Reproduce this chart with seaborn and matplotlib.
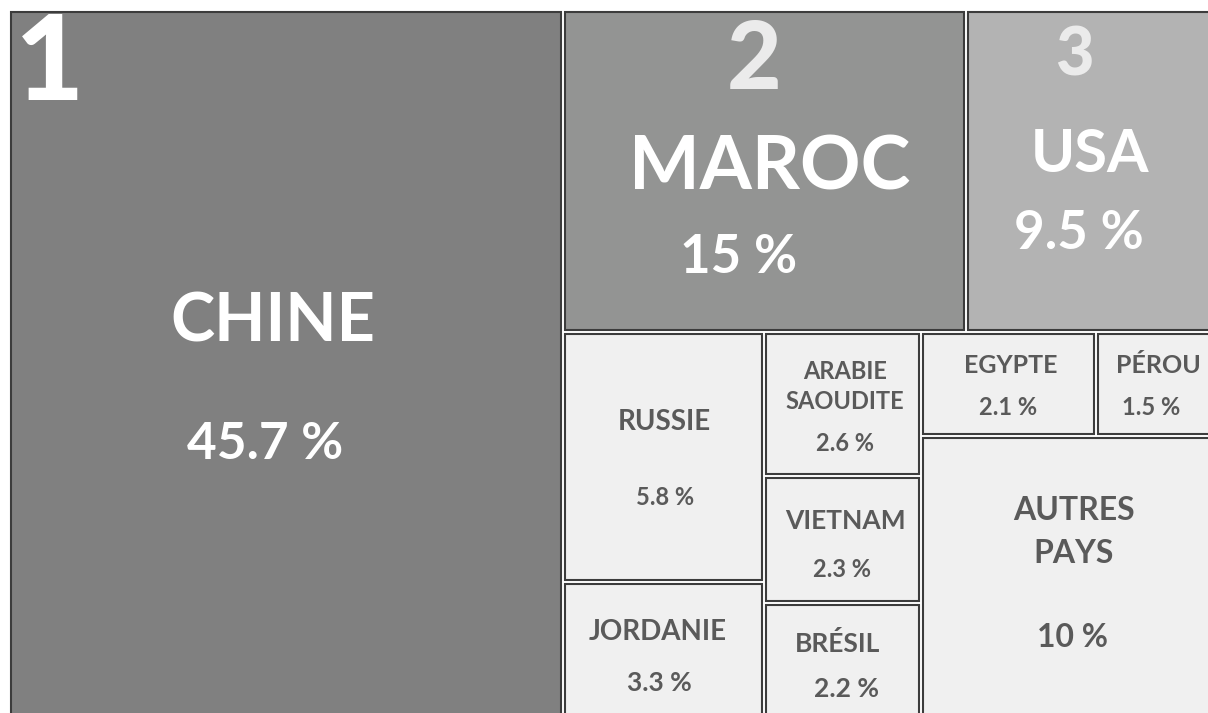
import matplotlib
matplotlib.use('Agg')
import matplotlib.pyplot as plt
from matplotlib.patches import Rectangle
import seaborn as sns

# parts de production (%)
pays = ['CHINE', 'MAROC', 'USA', 'RUSSIE', 'JORDANIE', 'ARABIE SAOUDITE',
        'VIETNAM', 'BRÉSIL', 'EGYPTE', 'PÉROU', 'AUTRES PAYS']
parts = [45.7, 15, 9.5, 5.8, 3.3, 2.6, 2.3, 2.2, 2.1, 1.5, 10]
rangs = ['1', '2', '3']

valeur = dict(zip(pays, parts))

# structure du treemap : 'h' = découpage horizontal, 'v' = vertical
arbre = ('h', ['CHINE',
               ('v', [('h', ['MAROC', 'USA']),
                      ('h', [('v', ['RUSSIE', 'JORDANIE']),
                             ('v', ['ARABIE SAOUDITE', 'VIETNAM', 'BRÉSIL']),
                             ('v', [('h', ['EGYPTE', 'PÉROU']), 'AUTRES PAYS'])])])])


def total(node):
    if isinstance(node, str):
        return valeur[node]
    return sum(total(c) for c in node[1])


def layout(node, x, y, w, h):
    if isinstance(node, str):
        return {node: (x, y, w, h)}
    sens, enfants = node
    tot = total(node)
    out = {}
    pos = 0
    for c in enfants:
        f = total(c) / tot
        if sens == 'h':
            out.update(layout(c, x + pos * w, y, f * w, h))
        else:
            out.update(layout(c, x, y + pos * h, w, f * h))
        pos += f
    return out


sns.set_style('white')
plt.rcParams['font.family'] = ['Lato', 'DejaVu Sans']

fonds = {'CHINE': '#808080', 'MAROC': '#939493', 'USA': '#b3b3b3'}
fond_defaut = '#f0f0f0'
clair, fonce = '#ffffff', '#5a5a5a'

# textes : (texte, fx, fy, taille) en fraction de la case
etiquettes = {
    'CHINE': [('CHINE', 0.477, 0.43, 48), ('45.7 %', 0.463, 0.603, 37)],
    'MAROC': [('MAROC', 0.512, 0.47, 54), ('15 %', 0.435, 0.755, 38)],
    'USA': [('USA', 0.486, 0.433, 43), ('9.5 %', 0.443, 0.68, 38)],
    'RUSSIE': [('RUSSIE', 0.507, 0.359, 20), ('5.8 %', 0.507, 0.661, 17)],
    'JORDANIE': [('JORDANIE', 0.473, 0.355, 20), ('3.3 %', 0.478, 0.709, 19)],
    'ARABIE SAOUDITE': [('ARABIE', 0.518, 0.274, 17), ('SAOUDITE', 0.518, 0.484, 17),
                        ('2.6 %', 0.518, 0.779, 17)],
    'VIETNAM': [('VIETNAM', 0.518, 0.361, 19), ('2.3 %', 0.498, 0.742, 17)],
    'BRÉSIL': [('BRÉSIL', 0.473, 0.336, 19), ('2.2 %', 0.53, 0.71, 19)],
    'EGYPTE': [('EGYPTE', 0.514, 0.32, 18), ('2.1 %', 0.497, 0.728, 17)],
    'PÉROU': [('PÉROU', 0.496, 0.32, 18), ('1.5 %', 0.44, 0.728, 17)],
    'AUTRES PAYS': [('AUTRES', 0.51, 0.259, 23), ('PAYS', 0.51, 0.409, 23),
                    ('10 %', 0.507, 0.70, 23)],
}
rang_pos = {'CHINE': (0.074, 0.078, 86, clair),
            'MAROC': (0.475, 0.160, 68, '#ebebeb'),
            'USA': (0.424, 0.145, 48, '#ebebeb')}

fig = plt.figure(figsize=(12.08, 7.13), dpi=100)
ax = fig.add_axes([0, 0, 1, 1])
ax.set_xlim(0, 1208)
ax.set_ylim(713, 0)
ax.axis('off')

cases = layout(arbre, 9, 10, 1212, 714)
marge = 2
for nom in pays:
    x, y, w, h = cases[nom]
    ax.add_patch(Rectangle((x + marge, y + marge), w - 2 * marge, h - 2 * marge,
                           facecolor=fonds.get(nom, fond_defaut),
                           edgecolor='#3c3c3c', linewidth=1.5))
    grand = nom in fonds
    couleur = clair if grand else fonce
    for txt, fx, fy, taille in etiquettes[nom]:
        # petit décalage vers le bas pour les gros textes (va='center' remonte les capitales)
        dy = 0.12 * taille if grand else 0
        ax.text(x + fx * w, y + fy * h + dy, txt, ha='center', va='center',
                fontsize=taille, fontweight='bold', color=couleur)

for r, nom in zip(rangs, pays[:3]):
    x, y, w, h = cases[nom]
    fx, fy, taille, c = rang_pos[nom]
    ax.text(x + fx * w, y + fy * h, r, ha='center', va='center',
            fontsize=taille, fontweight='black', color=c)

plt.savefig('out.png', dpi=100)
